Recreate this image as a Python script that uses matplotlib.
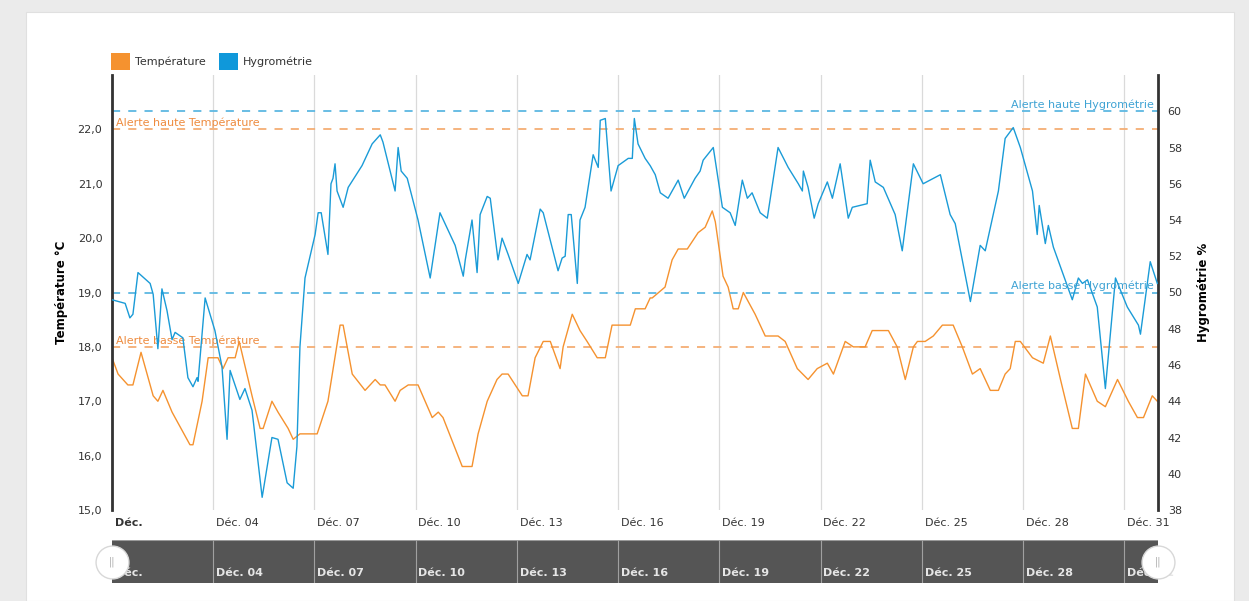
import matplotlib
matplotlib.use("Agg")
import matplotlib.pyplot as plt
from matplotlib.patches import Rectangle
from matplotlib.transforms import blended_transform_factory

# jours depuis le 1er décembre 00:00
hum_days = [0.00, 0.39, 0.53, 0.62, 0.77, 1.13, 1.22, 1.36, 1.48, 1.63, 1.78, 1.87, 2.10, 2.25, 2.40, 2.52,
            2.55, 2.76, 3.05, 3.26, 3.41, 3.50, 3.79, 3.94, 4.15, 4.45, 4.74, 4.92, 5.19, 5.37, 5.48, 5.57,
            5.72, 6.02, 6.11, 6.20, 6.40, 6.49, 6.55, 6.61, 6.67, 6.85, 7.00, 7.41, 7.71, 7.95, 8.03, 8.39,
            8.48, 8.57, 8.75, 9.07, 9.43, 9.72, 10.17, 10.41, 10.47, 10.67, 10.82, 10.91, 11.12, 11.21, 11.44,
            11.56, 11.74, 12.04, 12.30, 12.39, 12.69, 12.78, 13.22, 13.34, 13.43, 13.52, 13.61, 13.79, 13.87,
            14.02, 14.26, 14.41, 14.47, 14.62, 14.79, 15.00, 15.30, 15.42, 15.48, 15.59, 15.80, 15.95, 16.10,
            16.25, 16.48, 16.78, 16.96, 17.28, 17.43, 17.52, 17.82, 18.09, 18.32, 18.47, 18.68, 18.83, 18.97,
            19.21, 19.42, 19.74, 20.04, 20.34, 20.46, 20.49, 20.63, 20.81, 20.93, 21.20, 21.35, 21.58, 21.82,
            21.94, 22.38, 22.47, 22.62, 22.86, 23.21, 23.42, 23.75, 24.04, 24.55, 24.84, 24.99, 25.44, 25.73,
            25.88, 26.27, 26.47, 26.71, 26.92, 27.28, 27.42, 27.48, 27.66, 27.75, 27.90, 28.46, 28.64, 28.76,
            28.91, 29.20, 29.44, 29.74, 30.09, 30.42, 30.48, 30.77, 30.98]
hum_values = [49.6, 49.4, 48.6, 48.8, 51.1, 50.5, 49.9, 46.9, 50.2, 49.0, 47.4, 47.8, 47.5, 45.3, 44.8, 45.3,
              45.1, 49.7, 47.9, 45.9, 41.9, 45.7, 44.1, 44.7, 43.5, 38.7, 42.0, 41.9, 39.5, 39.2, 41.5, 47.0,
              50.8, 53.2, 54.4, 54.4, 52.1, 56.0, 56.3, 57.1, 55.6, 54.7, 55.8, 57.0, 58.2, 58.7, 58.3, 55.6,
              58.0, 56.7, 56.3, 54.0, 50.8, 54.4, 52.6, 50.9, 51.8, 54.0, 51.1, 54.3, 55.3, 55.2, 51.8,
              53.0, 52.1, 50.5, 52.1, 51.8, 54.6, 54.4, 51.2, 51.9, 52.0, 54.3, 54.3, 50.5, 54.0,
              54.7, 57.6, 56.9, 59.5, 59.6, 55.6, 57.0, 57.4, 57.4, 59.6, 58.2, 57.4, 57.0, 56.5,
              55.5, 55.2, 56.2, 55.2, 56.3, 56.7, 57.3, 58.0, 54.7, 54.4, 53.7, 56.2, 55.2, 55.5,
              54.4, 54.1, 58.0, 56.9, 56.0, 55.6, 56.7, 55.8, 54.1, 54.9, 56.1, 55.2, 57.1, 54.1,
              54.7, 54.9, 57.3, 56.1, 55.8, 54.3, 52.3, 57.1, 56.0, 56.5, 54.3, 53.8, 49.5, 52.6,
              52.3, 55.6, 58.5, 59.1, 58.0, 55.6, 53.2, 54.8, 52.7, 53.7, 52.5, 49.6, 50.8, 50.5,
              50.7, 49.2, 44.7, 50.8, 49.2, 48.2, 47.7, 51.7, 50.5]

temp_days = [0.00, 0.18, 0.47, 0.62, 0.86, 1.22, 1.36, 1.51, 1.78, 2.31, 2.40, 2.67, 2.85, 3.14, 3.29, 3.44,
             3.65, 3.77, 4.15, 4.39, 4.48, 4.74, 4.92, 5.22, 5.37, 5.57, 6.08, 6.40, 6.76, 6.85, 7.12, 7.50,
             7.80, 7.95, 8.09, 8.39, 8.54, 8.78, 9.07, 9.49, 9.67, 9.81, 10.38, 10.67, 10.85, 11.12, 11.41,
             11.56, 11.74, 11.95, 12.16, 12.33, 12.54, 12.78, 12.99, 13.28, 13.37, 13.64, 13.87, 14.08, 14.38,
             14.62, 14.82, 15.36, 15.51, 15.80, 15.95, 16.01, 16.39, 16.60, 16.78, 17.05, 17.37, 17.58, 17.79,
             17.88, 18.11, 18.26, 18.41, 18.56, 18.71, 19.06, 19.36, 19.74, 19.95, 20.31, 20.63, 20.90, 21.20,
             21.38, 21.73, 21.97, 22.32, 22.53, 23.01, 23.27, 23.51, 23.75, 23.87, 24.10, 24.34, 24.61, 24.93,
             25.20, 25.50, 25.73, 26.03, 26.27, 26.47, 26.62, 26.77, 26.92, 27.28, 27.60, 27.81, 28.11, 28.46,
             28.64, 28.85, 29.20, 29.44, 29.80, 30.12, 30.39, 30.57, 30.83, 30.98]
temp_values = [17.8, 17.5, 17.3, 17.3, 17.9, 17.1, 17.0, 17.2, 16.8, 16.2, 16.2, 17.0, 17.8, 17.8, 17.6, 17.8,
               17.8, 18.1, 17.1, 16.5, 16.5, 17.0, 16.8, 16.5, 16.3, 16.4, 16.4, 17.0, 18.4, 18.4, 17.5, 17.2,
               17.4, 17.3, 17.3, 17.0, 17.2, 17.3, 17.3, 16.7, 16.8, 16.7, 15.8, 15.8, 16.4, 17.0, 17.4,
               17.5, 17.5, 17.3, 17.1, 17.1, 17.8, 18.1, 18.1, 17.6, 18.0, 18.6, 18.3, 18.1, 17.8,
               17.8, 18.4, 18.4, 18.7, 18.7, 18.9, 18.9, 19.1, 19.6, 19.8, 19.8, 20.1, 20.2, 20.5,
               20.3, 19.3, 19.1, 18.7, 18.7, 19.0, 18.6, 18.2, 18.2, 18.1, 17.6, 17.4, 17.6, 17.7,
               17.5, 18.1, 18.0, 18.0, 18.3, 18.3, 18.0, 17.4, 18.0, 18.1, 18.1, 18.2, 18.4, 18.4,
               18.0, 17.5, 17.6, 17.2, 17.2, 17.5, 17.6, 18.1, 18.1, 17.8, 17.7, 18.2, 17.4, 16.5,
               16.5, 17.5, 17.0, 16.9, 17.4, 17.0, 16.7, 16.7, 17.1, 17.0]

temp_alerts = {"haute": 22.0, "basse": 18.0}
hum_alerts = {"haute": 60, "basse": 50}

tick_days = list(range(0, 31, 3))
tick_labels = ["Déc."] + ["Déc. %02d" % (d + 1) for d in tick_days[1:]]

ORANGE = "#f5922f"
BLUE = "#1a9bd7"
ORANGE_ALERT = "#f4ae74"
BLUE_ALERT = "#5db8e2"

plt.rcParams["font.family"] = ["DejaVu Sans"]

W, H = 1249, 601
fig = plt.figure(figsize=(W / 100, H / 100), dpi=100, facecolor="#ebebeb")
fig.patches.append(Rectangle((26 / W, 0), (1234 - 26) / W, 1 - 12 / H, transform=fig.transFigure,
                             facecolor="white", edgecolor="#e0e0e0", lw=0.8, zorder=-10))

def fx(px):
    return px / W

def fy(py):
    return 1 - py / H

ax = fig.add_axes([fx(112), fy(510), fx(1158) - fx(112), fy(75) - fy(510)])
ax.set_facecolor("none")
ax2 = ax.twinx()

ax.set_xlim(0, 31)
ax.set_ylim(15, 23)
ax2.set_ylim(38, 62)

for d in tick_days[1:]:
    ax.axvline(d, color="#dadada", lw=0.9, zorder=0)

ax.plot(temp_days, temp_values, color=ORANGE, lw=1.0, zorder=3)
ax2.plot(hum_days, hum_values, color=BLUE, lw=1.0, zorder=3)

dash = (0, (4.5, 4.5))
for v in temp_alerts.values():
    ax.axhline(v, color=ORANGE_ALERT, lw=1.3, linestyle=dash, zorder=2)
for v in hum_alerts.values():
    ax2.axhline(v, color=BLUE_ALERT, lw=1.3, linestyle=dash, zorder=2)

ax.text(0.12, temp_alerts["haute"] + 0.02, "Alerte haute Température", color="#ee8b3e", fontsize=8, va="bottom", ha="left")
ax.text(0.12, temp_alerts["basse"] + 0.02, "Alerte basse Température", color="#ee8b3e", fontsize=8, va="bottom", ha="left")
ax2.text(30.88, hum_alerts["haute"] + 0.08, "Alerte haute Hygrométrie", color="#3fa3d4", fontsize=8, va="bottom", ha="right")
ax2.text(30.88, hum_alerts["basse"] + 0.08, "Alerte basse Hygrométrie", color="#3fa3d4", fontsize=8, va="bottom", ha="right")

ax.set_yticks(range(15, 23))
ax.set_yticklabels(["%d,0" % v for v in range(15, 23)])
ax2.set_yticks(range(38, 62, 2))
ax.tick_params(axis="y", length=0, pad=7, labelsize=8, colors="#333333")
ax2.tick_params(axis="y", length=0, pad=7, labelsize=8, colors="#333333")
ax.set_xticks(tick_days)
ax.set_xticklabels([])
ax.tick_params(axis="x", length=0)

xtr = blended_transform_factory(ax.transData, ax.transAxes)
for d, lab in zip(tick_days, tick_labels):
    ax.text(d + 0.08, -0.018, lab, transform=xtr, ha="left", va="top", fontsize=8, color="#333333",
            fontweight="bold" if d == 0 else "normal")

for a in (ax, ax2):
    a.spines["top"].set_visible(False)
    a.spines["bottom"].set_visible(False)
ax.spines["right"].set_visible(False)
ax2.spines["left"].set_color("#333333")
ax2.spines["left"].set_linewidth(2)
ax2.spines["right"].set_color("#333333")
ax2.spines["right"].set_linewidth(2)

ax.set_ylabel("Température °C", fontsize=8.5, fontweight="bold", labelpad=7)
ax2.set_ylabel("Hygrométrie %", fontsize=8.5, fontweight="bold", labelpad=11)

# légende
fig.patches.append(Rectangle((fx(111), fy(70)), fx(19), fy(53) - fy(70), transform=fig.transFigure, facecolor=ORANGE, zorder=3))
fig.text(fx(135), fy(62), "Température", fontsize=8, va="center", color="#333333")
fig.patches.append(Rectangle((fx(219), fy(70)), fx(19), fy(53) - fy(70), transform=fig.transFigure, facecolor="#0f98da", zorder=3))
fig.text(fx(243), fy(62), "Hygrométrie", fontsize=8, va="center", color="#333333")

# navigateur
nav = fig.add_axes([fx(112), fy(583), fx(1158) - fx(112), fy(540) - fy(583)])
nav.set_xlim(0, 31)
nav.set_ylim(0, 1)
nav.set_facecolor("#555555")
for s in nav.spines.values():
    s.set_visible(False)
nav.axhline(1, color="#9a9a9a", lw=1.5)
nav.set_xticks([])
nav.set_yticks([])
for d, lab in zip(tick_days, tick_labels):
    if d > 0:
        nav.axvline(d, color="#a0a0a0", lw=0.8)
    nav.text(d + 0.08, 0.12, lab, ha="left", va="bottom", fontsize=8, color="#e6e6e6", fontweight="bold")

for d in (0, 31):
    nav.scatter([d], [0.5], s=560, color="white", edgecolor="#d8d8d8", lw=1, zorder=5, clip_on=False)
    nav.text(d, 0.5, "||", ha="center", va="center", fontsize=7, color="#aaaaaa", zorder=6)

fig.savefig("out.png", dpi=100, facecolor=fig.get_facecolor())
